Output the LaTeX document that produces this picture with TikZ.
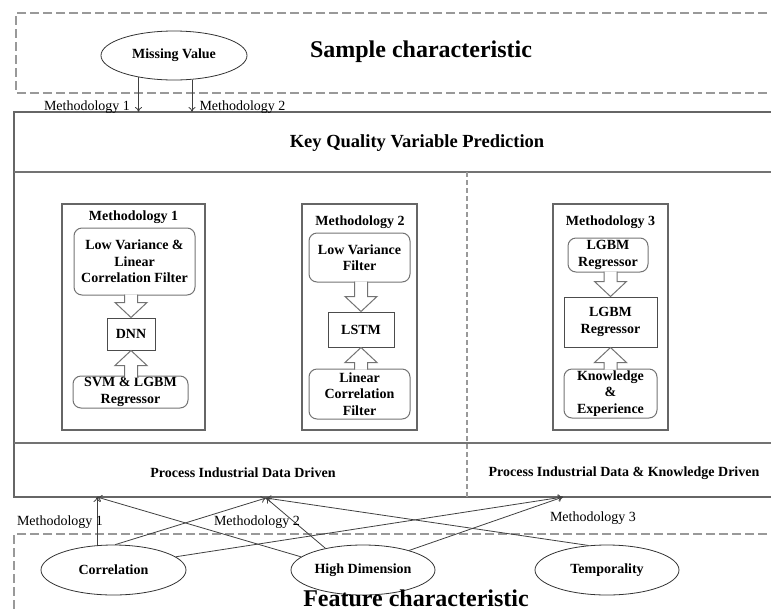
\documentclass[tikz,border=0pt]{standalone}
\usepackage{fontspec}
\setmainfont{Liberation Serif}
\usetikzlibrary{shapes.geometric,arrows.meta,calc}
\newcommand\myBold{\fontsize{14}{16.5}\selectfont\bfseries}
\newcommand\myReg{\fontsize{14}{16.5}\selectfont}
\begin{document}
\begin{tikzpicture}[x=1pt,y=-1pt,
  dashbox/.style={draw=black!40, line width=1.2pt, dash pattern=on 9pt off 4pt},
  mainline/.style={draw=black!60, line width=1.5pt},
  divline/.style={draw=black!40, line width=1.2pt, dash pattern=on 5pt off 3pt},
  methbox/.style={draw=black!60, line width=1.2pt, rectangle, inner sep=0pt},
  rbox/.style={draw=black!55, line width=1pt, rectangle, rounded corners=8pt, align=center, font=\myBold, inner sep=0pt},
  sbox/.style={draw=black!70, line width=1pt, rectangle, align=center, font=\myBold, inner sep=0pt},
  ell/.style={ellipse, draw=black!80, line width=0.8pt, font=\myBold, inner sep=0pt},
  conn/.style={draw=black!75, line width=0.8pt, -{To[length=5pt,width=7pt]}},
  lbl/.style={font=\myReg, inner sep=0pt},
  btxt/.style={font=\myBold, inner sep=0pt, align=center},
  blk/.style={draw=black!55, fill=white, line width=1pt, line join=miter},
  pics/bdn/.style={code={\draw[blk] (-6.5,-#1) -- (-6.5,-15) -- (-16,-15) -- (0,0) -- (16,-15) -- (6.5,-15) -- (6.5,-#1);}},
  pics/bup/.style={code={\draw[blk] (-6.5,#1) -- (-6.5,15) -- (-16,15) -- (0,0) -- (16,15) -- (6.5,15) -- (6.5,#1);}}
]
\useasboundingbox (0,0) rectangle (771,611);
\clip (0,0) rectangle (771,611);

% Sample characteristic region
\draw[dashbox] (780,13) -- (16,13) -- (16,93) -- (780,93);
\node[ell, minimum width=146, minimum height=49] (mv) at (174,55.5) {Missing Value};
\node[font=\fontsize{24}{28}\selectfont\bfseries, anchor=base, inner sep=0pt] (samp) at (421,57) {Sample characteristic};

% Main box
\draw[mainline] (780,112) -- (14,112) -- (14,497) -- (780,497);
\draw[mainline, line width=2pt, draw=black!55] (14,172) -- (780,172);
\draw[mainline, line width=2pt, draw=black!55] (14,443) -- (780,443);
\draw[divline] (467,172) -- (467,497);
\node[font=\fontsize{18.5}{22}\selectfont\bfseries, inner sep=0pt] (kq) at (417,143) {Key Quality Variable Prediction};
\node[btxt] (pd1) at (243,473) {Process Industrial Data Driven};
\node[btxt] (pd2) at (624,473) {Process Industrial Data \& Knowledge Driven};

% top arrows
\coordinate (t1) at (138.5,112);
\coordinate (t2) at (192,112);
\draw[conn] (t1 |- mv.211) -- (t1);
\draw[conn] (t2 |- mv.307) -- (t2);
\node[lbl] (lt1) at (87,107) {Methodology 1};
\node[lbl] (lt2) at (242.5,107) {Methodology 2};

% Methodology 1
\node[methbox, minimum width=143, minimum height=226] (m1) at (133.5,317) {};
\node[btxt] (m1t) at (133.5,217) {Methodology 1};
\node[rbox, minimum width=121, minimum height=67] (m1a) at (134.5,261.5) {Low Variance \&\\Linear\\Correlation Filter};
\node[sbox, minimum width=48, minimum height=32] (m1b) at (131,334) {DNN};
\node[rbox, minimum width=115, minimum height=32] (m1c) at (130.5,392) {SVM \& LGBM\\Regressor};
\pic at (m1b.north) {bdn=23};
\pic at (m1b.south) {bup=27};

% Methodology 2
\node[methbox, minimum width=115, minimum height=226] (m2) at (359.5,317) {};
\node[btxt] (m2t) at (360,222) {Methodology 2};
\node[rbox, minimum width=101, minimum height=49] (m2a) at (359.5,257.5) {Low Variance\\Filter};
\node[sbox, minimum width=66, minimum height=35] (m2b) at (361,329.5) {LSTM};
\node[rbox, minimum width=101, minimum height=50] (m2c) at (359.5,394) {Linear\\Correlation\\Filter};
\pic at (m2b.north) {bdn=30};
\pic at (m2b.south) {bup=22};

% Methodology 3
\node[methbox, minimum width=115, minimum height=226] (m3) at (610.5,317) {};
\node[btxt] (m3t) at (610.5,222) {Methodology 3};
\node[rbox, minimum width=80, minimum height=34] (m3a) at (608,255) {LGBM\\Regressor};
\node[sbox, minimum width=93, minimum height=50] (m3b) at (610.5,322) {LGBM\\Regressor};
\node[rbox, minimum width=93, minimum height=49] (m3c) at (610.5,393.5) {Knowledge\\\&\\Experience};
\pic at (m3b.north) {bdn=25};
\pic at (m3b.south) {bup=22};

% Feature characteristic region
\draw[dashbox] (780,534) -- (14,534) -- (14,620);
\node[ell, minimum width=145, minimum height=50] (cor) at (113.5,570) {Correlation};
\node[ell, minimum width=144, minimum height=50] (hd) at (363,570) {High Dimension};
\node[ell, minimum width=144, minimum height=50] (tem) at (607,570) {Temporality};
\node[font=\fontsize{24}{28}\selectfont\bfseries, anchor=base, inner sep=0pt] (feat) at (416,606.5) {Feature characteristic};

% bottom connectors
\coordinate (a1) at (97,497);
\coordinate (a2) at (266,498);
\coordinate (a3) at (563,497);
\draw[conn] (a1 |- cor.124) -- (a1);
\draw[conn] (hd.168) -- (a1);
\draw[conn] (cor.86) -- (a2);
\draw[conn] (hd.150) -- (a2);
\draw[conn] (tem.127) -- (a2);
\draw[conn] (cor.12) -- (a3);
\draw[conn] (hd.23) -- (a3);
\node[lbl] (lb1) at (60,522) {Methodology 1};
\node[lbl] (lb2) at (257,522) {Methodology 2};
\node[lbl] (lb3) at (593,518) {Methodology 3};
\end{tikzpicture}
\end{document}
